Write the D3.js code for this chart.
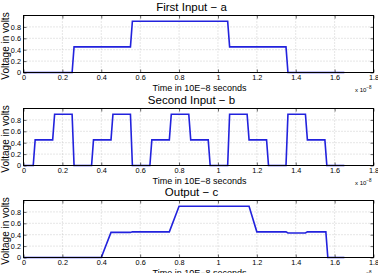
<!DOCTYPE html>
<html><head><meta charset="utf-8">
<script src="https://cdn.jsdelivr.net/npm/d3@7"></script>
<style>body{margin:0;background:#fff}svg{display:block}</style>
</head><body>
<script>
const xTicks = [0,0.2,0.4,0.6,0.8,1,1.2,1.4,1.6,1.8];
const yTicks = [0,0.2,0.4,0.6,0.8];
const titles = ["First Input \u2212 a","Second Input \u2212 b","Output \u2212 c"];
const inputA_t = [0,0.25,0.26,0.55,0.56,1.05,1.06,1.35,1.36,1.65];
const inputA_v = [0,0,0.45,0.45,0.9,0.9,0.45,0.45,0,0];
const inputB_t = [0,0.05,0.06,0.15,0.16,0.25,0.26,0.35,0.36,0.45,0.46,0.55,0.56,0.65,0.66,0.75,0.76,0.85,0.86,0.95,0.96,1.05,1.06,1.15,1.16,1.25,1.26,1.35,1.36,1.45,1.46,1.55,1.56,1.65];
const inputB_v = [0,0,0.45,0.45,0.9,0.9,0,0,0.45,0.45,0.9,0.9,0,0,0.45,0.45,0.9,0.9,0.45,0.45,0,0,0.9,0.9,0.45,0.45,0,0,0.9,0.9,0.45,0.45,0,0];
const outC_t = [0,0.4,0.45,0.55,0.56,0.75,0.8,1.16,1.2,1.35,1.36,1.45,1.46,1.555,1.565,1.65];
const outC_v = [0,0,0.44,0.44,0.45,0.45,0.9,0.9,0.45,0.45,0.43,0.43,0.45,0.45,0,0];
const series = [[inputA_t,inputA_v],[inputB_t,inputB_v],[outC_t,outC_v]];

const W=378,H=273;
const svg=d3.select("body").append("svg").attr("width",W).attr("height",H);
const left=23.5,right=373.5;
const tops=[15.5,108.5,200.5], ph=57;
const font="Liberation Sans, Arial, sans-serif";
const x=d3.scaleLinear().domain([0,1.8]).range([left,right]);

tops.forEach((top,i)=>{
  const y=d3.scaleLinear().domain([0,1]).range([top+ph,top]);
  const g=svg.append("g");
  // grid
  g.selectAll(".gx").data(xTicks.slice(1,-1)).join("line")
    .attr("x1",d=>x(d)).attr("x2",d=>x(d)).attr("y1",top).attr("y2",top+ph)
    .attr("stroke","#c0c0c0").attr("stroke-width",0.8).attr("stroke-dasharray","1,2");
  g.selectAll(".gy").data(yTicks.slice(1)).join("line")
    .attr("x1",left).attr("x2",right).attr("y1",d=>y(d)).attr("y2",d=>y(d))
    .attr("stroke","#c0c0c0").attr("stroke-width",0.8).attr("stroke-dasharray","1,2");
  // line
  const [t,v]=series[i];
  const pts=t.map((d,k)=>[d,v[k]]);
  g.append("path").datum(pts)
    .attr("d",d3.line().x(d=>x(d[0])).y(d=>y(d[1])))
    .attr("fill","none").attr("stroke","#2222dd").attr("stroke-width",1.6);
  // axes
  const xa=d3.axisBottom(x).tickValues(xTicks).tickSize(-3).tickPadding(2).tickFormat(d3.format("~g"));
  const ya=d3.axisLeft(y).tickValues(yTicks).tickSize(-3).tickPadding(2.5).tickFormat(d3.format("~g"));
  g.append("g").attr("transform",`translate(0,${top+ph})`).call(xa);
  g.append("g").attr("transform",`translate(${left},0)`).call(ya);
  g.append("g").attr("transform",`translate(0,${top})`).call(d3.axisTop(x).tickValues(xTicks).tickSize(-3).tickFormat(""));
  g.append("g").attr("transform",`translate(${right},0)`).call(d3.axisRight(y).tickValues(yTicks).tickSize(-3).tickFormat(""));
  g.selectAll(".domain").remove();
  g.selectAll(".tick line").attr("stroke","#000").attr("stroke-width",0.6);
  g.selectAll(".tick text").attr("font-family",font).attr("font-size",7.3).attr("fill","#000");
  g.append("rect").attr("x",left).attr("y",top).attr("width",right-left).attr("height",ph)
    .attr("fill","none").attr("stroke","#000").attr("stroke-width",1);
  // labels
  svg.append("text").attr("x",(left+right)/2 - 7).attr("y",top-5).attr("text-anchor","middle")
    .attr("font-family",font).attr("font-size",11.5).text(titles[i]);
  svg.append("text").attr("x",(left+right)/2 + 1).attr("y",top+ph+18).attr("text-anchor","middle")
    .attr("font-family",font).attr("font-size",9).text("Time in 10E\u22128 seconds");
  svg.append("text").attr("transform",`translate(8.5,${top+ph/2+2}) rotate(-90)`).attr("text-anchor","middle")
    .attr("font-family",font).attr("font-size",10).text("Voltage in volts");
  const ex=svg.append("text").attr("x",355).attr("y",top+ph+19).attr("font-family",font).attr("font-size",6).text("x 10");
  ex.append("tspan").attr("dy",-3).attr("font-size",4.5).text("\u22128");
});
</script>
</body></html>
